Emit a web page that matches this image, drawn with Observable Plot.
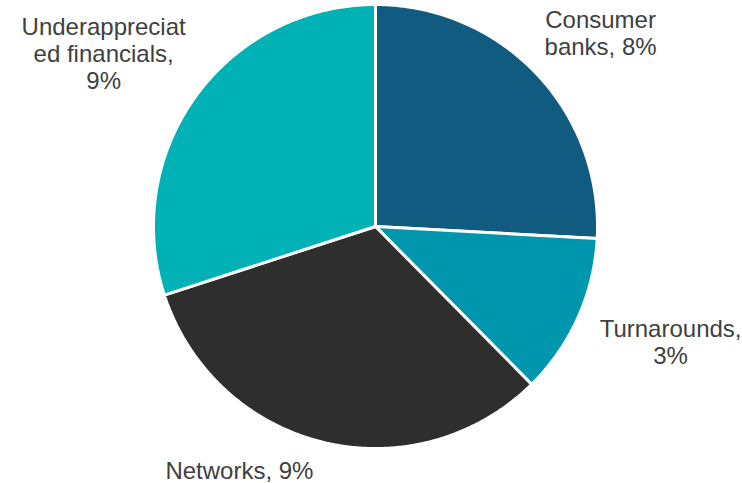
<!DOCTYPE html>
<html>
<head>
<meta charset="utf-8">
<script src="https://cdn.jsdelivr.net/npm/d3@7"></script>
<script src="https://cdn.jsdelivr.net/npm/@observablehq/plot@0.6"></script>
<style>
  html, body { margin: 0; padding: 0; background: #fff; }
  #chart svg { display: block; }
</style>
</head>
<body>
<div id="chart"></div>
<script>
// ---- Data ----
const categories = ["Consumer banks", "Turnarounds", "Networks", "Underappreciated financials"];
const shares = [7.5, 3.4, 9.4, 8.7];
const labelTexts = ["Consumer\nbanks, 8%", "Turnarounds,\n3%", "Networks, 9%", "Underappreciat\ned financials,\n9%"];
const sliceColors = ["#115b80", "#0097ae", "#2e2e2e", "#00b1b6"];

// ---- Layout ----
const W = 742, H = 483;
const cx = 375, cy = 226, R = 222;
const fontSize = 24, lineH = 1.13;
const font = `${fontSize}px "Liberation Sans", Arial, sans-serif`;

const pie = d3.pie().sort(null).value(d => d.value)(
  categories.map((c, i) => ({name: c, value: shares[i], label: labelTexts[i]}))
);

// polygon points for each slice (unit circle space, angle clockwise from top)
const pts = [];
for (const s of pie) {
  const n = Math.max(2, Math.ceil((s.endAngle - s.startAngle) / (Math.PI / 360)));
  pts.push({name: s.data.name, x: 0, y: 0});
  for (let k = 0; k <= n; k++) {
    const a = s.startAngle + (s.endAngle - s.startAngle) * k / n;
    pts.push({name: s.data.name, x: Math.sin(a), y: Math.cos(a)});
  }
  pts.push({name: s.data.name, x: 0, y: 0});
}

// label positions: outside end, box pushed away from pie;
// if a label would leave the frame, slide it around the pie until it fits
const ctx = document.createElement("canvas").getContext("2d");
ctx.font = font;
const gap = 32;
const labels = pie.map(s => {
  const lines = s.data.label.split("\n");
  const w = Math.max(...lines.map(l => ctx.measureText(l).width));
  const h = lines.length * fontSize * lineH;
  const a = (s.startAngle + s.endAngle) / 2;
  let ux = Math.sin(a), uy = -Math.cos(a);
  let py = cy + (R + gap) * uy + uy * h / 2;
  if (py + h / 2 > H) {
    uy = (H - h / 2 - cy) / (R + gap + h / 2);
    ux = Math.sign(ux || -1) * Math.sqrt(1 - uy * uy);
  } else if (py - h / 2 < 0) {
    uy = -(cy - h / 2) / (R + gap + h / 2);
    ux = Math.sign(ux || 1) * Math.sqrt(1 - uy * uy);
  }
  let px = cx + (R + gap) * ux + ux * w / 2;
  py = cy + (R + gap) * uy + uy * h / 2;
  px = Math.max(w / 2 + 4, Math.min(W - w / 2 - 1, px));
  return {text: s.data.label, x: (px - cx) / R, y: -(py - cy) / R};
});

const chart = Plot.plot({
  width: W,
  height: H,
  margin: 0,
  style: {background: "#fff", fontFamily: '"Liberation Sans", Arial, sans-serif'},
  x: {domain: [-1, 1], range: [cx - R, cx + R], axis: null},
  y: {domain: [-1, 1], range: [cy + R, cy - R], axis: null},
  color: {domain: categories, range: sliceColors},
  marks: [
    Plot.line(pts, {x: "x", y: "y", z: "name", fill: "name", stroke: "#fff", strokeWidth: 3, strokeLinejoin: "miter", curve: "linear"}),
    Plot.text(labels, {x: "x", y: "y", text: "text", fontSize: fontSize, lineHeight: lineH, fill: "#404040", textAnchor: "middle", lineAnchor: "middle"})
  ]
});
document.getElementById("chart").appendChild(chart);
</script>
</body>
</html>
